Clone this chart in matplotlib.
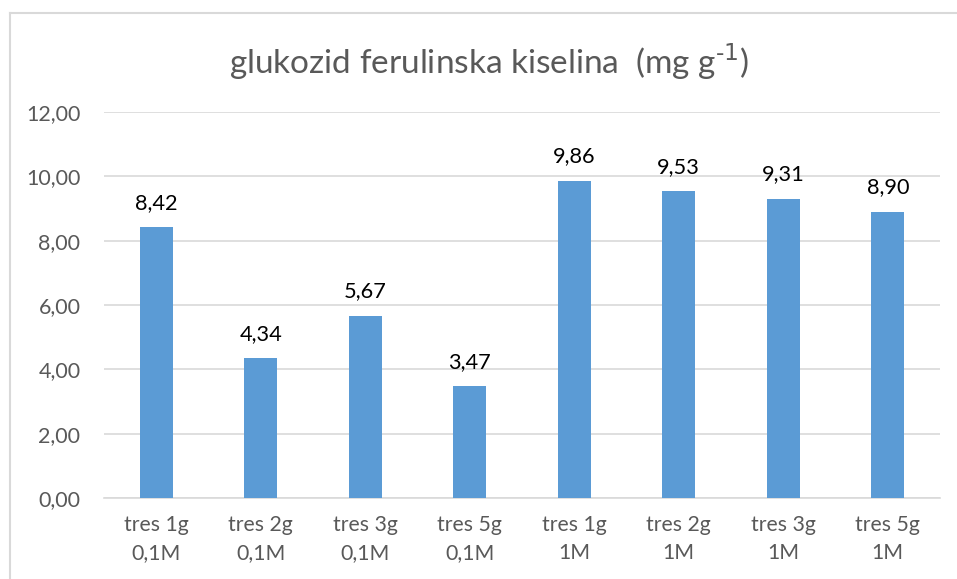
import matplotlib.pyplot as plt
from matplotlib.lines import Line2D

categories = ["tres 1g\n0,1M", "tres 2g\n0,1M", "tres 3g\n0,1M", "tres 5g\n0,1M",
              "tres 1g\n1M", "tres 2g\n1M", "tres 3g\n1M", "tres 5g\n1M"]
values = [8.42, 4.34, 5.67, 3.47, 9.86, 9.53, 9.31, 8.90]
yticks = [0, 2, 4, 6, 8, 10, 12]

plt.rcParams['font.family'] = ['Lato', 'DejaVu Sans']

W, H = 957, 579
fig = plt.figure(figsize=(W / 100, H / 100), dpi=100)
ax = fig.add_axes([104 / W, 1 - 498 / H, (940 - 104) / W, (498 - 112) / H])

# outer chart border (left and top visible)
fig.add_artist(Line2D([10 / W, 10 / W], [0, 1 - 13 / H], color="#d9d9d9", lw=1.5,
                      transform=fig.transFigure))
fig.add_artist(Line2D([10 / W, 1], [1 - 13 / H, 1 - 13 / H], color="#d9d9d9", lw=1.5,
                      transform=fig.transFigure))

x = range(len(categories))
bars = ax.bar(x, values, width=0.32, color="#5b9bd5", zorder=3)
for xi, v in zip(x, values):
    ax.text(xi, v + 0.45, f"{v:.2f}".replace(".", ","), ha="center", va="bottom",
            fontsize=15.7, color="#000000")

ax.set_xlim(-0.5, len(categories) - 0.5)
ax.set_ylim(0, 12)
ax.set_yticks(yticks)
ax.set_yticklabels([f"{t:.2f}".replace(".", ",") for t in yticks], fontsize=15.5, color="#595959")
ax.set_xticks(list(x))
ax.set_xticklabels(categories, fontsize=15.3, color="#595959", linespacing=1.55)
ax.tick_params(axis="both", length=0)
ax.tick_params(axis="y", pad=17)
ax.tick_params(axis="x", pad=12)
ax.grid(axis="y", color="#d9d9d9", lw=1.2, zorder=0)
for s in ["top", "right", "left"]:
    ax.spines[s].set_visible(False)
ax.spines["bottom"].set_color("#d9d9d9")
ax.spines["bottom"].set_linewidth(1.2)

fig.text(489 / W, 1 - 62 / H, r"glukozid ferulinska kiselina  (mg g$^{\text{-}1}$)",
         ha="center", va="center", fontsize=24, color="#595959")

fig.savefig("out.png", dpi=100)
